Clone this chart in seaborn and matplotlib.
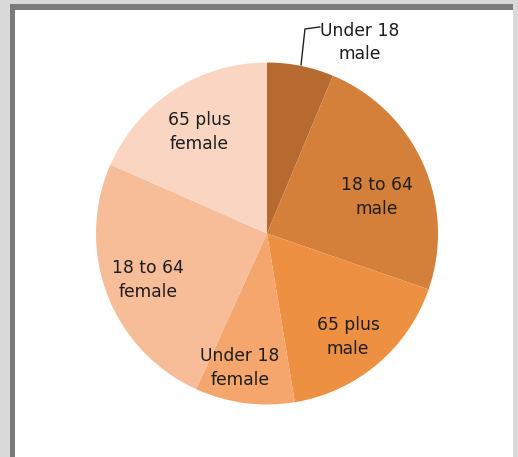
import matplotlib
matplotlib.use("Agg")
import matplotlib.pyplot as plt
import seaborn as sns
import numpy as np
from matplotlib.patches import Rectangle

sns.set_theme(style="white")
plt.rcParams['font.family'] = ['DejaVu Sans']

# Data
categories = ["Under 18\nmale", "18 to 64\nmale", "65 plus\nmale",
              "Under 18\nfemale", "18 to 64\nfemale", "65 plus\nfemale"]
shares = [6.3, 24.0, 17.1, 9.4, 24.8, 18.4]
colors = ["#B66A30", "#D47F3A", "#EE9041", "#F4A66C", "#F7BC98", "#FAD5C1"]

# label positions relative to pie centre (in pie radii)
label_pos = [(0.544, 1.117), (0.641, 0.215), (0.474, -0.605),
             (-0.158, -0.787), (-0.696, -0.272), (-0.398, 0.594)]

W, H = 518, 457
fig = plt.figure(figsize=(W / 100, H / 100), dpi=100)
fig.patch.set_facecolor("#DADADA")
# frame: dark border on top/left, white interior
fig.patches.append(Rectangle((10 / W, 0), (513 - 10) / W, (H - 4) / H,
                             transform=fig.transFigure, facecolor="#7B7B7B",
                             edgecolor="none", zorder=-2))
fig.patches.append(Rectangle((15 / W, 0), (513 - 15) / W, (H - 10) / H,
                             transform=fig.transFigure, facecolor="white",
                             edgecolor="none", zorder=-1))

# pie centre (267, 233.5) px, radius 171 px
cx, cy, r = 267, 233.5, 171
ax = fig.add_axes([(cx - r) / W, 1 - (cy + r) / H, 2 * r / W, 2 * r / H])
ax.set_zorder(1)
ax.set_facecolor("none")
wedges, _ = ax.pie(shares, colors=colors, startangle=90, counterclock=False,
                   radius=1.0, wedgeprops=dict(linewidth=0))
ax.set_xlim(-1, 1)
ax.set_ylim(-1, 1)
ax.set_aspect("equal")
ax.axis("off")

for (lx, ly), lab in zip(label_pos, categories):
    ax.text(lx, ly, lab, ha="center", va="center", fontsize=12.3,
            color="#1E1E1E", linespacing=1.4, clip_on=False)

# leader line for the small slice
ax.plot([0.199, 0.222, 0.31], [0.985, 1.196, 1.208], color="#222222",
        lw=1.0, clip_on=False)

fig.savefig("out.png", dpi=100, facecolor=fig.get_facecolor())
